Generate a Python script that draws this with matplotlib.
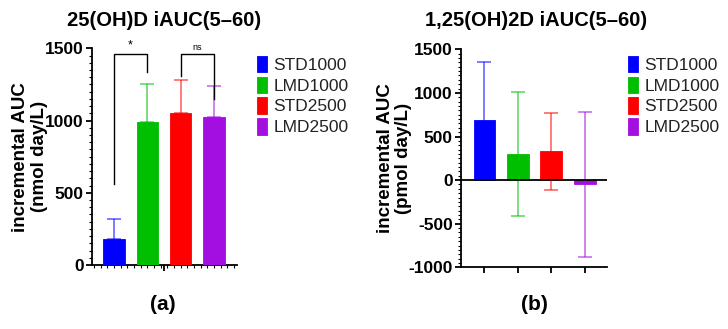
import matplotlib
matplotlib.use("Agg")
import matplotlib.pyplot as plt
from matplotlib.ticker import MultipleLocator, FixedLocator, NullFormatter
import numpy as np

plt.rcParams['font.family'] = ['Liberation Sans', 'DejaVu Sans']

groups = ["STD1000", "LMD1000", "STD2500", "LMD2500"]
colors = ["#0000FF", "#00BE00", "#FF0000", "#A30FE0"]

# Panel (a): 25(OH)D iAUC(5-60), nmol day/L
a_mean = [178, 988, 1050, 1027]
a_err = [138, 268, 233, 213]

# Panel (b): 1,25(OH)2D iAUC(5-60), pmol day/L
b_mean = [686, 297, 328, -49]
b_err = [667, 713, 447, 830]

# significance brackets for panel (a): (i, j, top, left_leg_end, right_leg_end, label)
a_brackets = [(0, 1, 1461, 561, 1338, "*"), (2, 3, 1461, 1308, 1147, "ns")]

W, H = 728, 329
fig = plt.figure(figsize=(W / 100, H / 100), dpi=100)

axA = fig.add_axes([92 / W, 1 - 265 / H, (237 - 92) / W, (265 - 48.3) / H])
axB = fig.add_axes([461 / W, 1 - 267.3 / H, (606.7 - 461) / W, (267.3 - 49.3) / H])

x = np.arange(len(groups))


def draw(ax, means, errs, lower_err):
    for i in range(len(groups)):
        ax.bar(x[i], means[i], width=0.65, color=colors[i], edgecolor=colors[i],
               linewidth=0.6, zorder=3, label=groups[i])
        yerr = [[errs[i] if lower_err else 0], [errs[i]]]
        ax.errorbar(x[i], means[i], yerr=yerr, fmt='none', ecolor=colors[i],
                    alpha=0.6, elinewidth=1.2, capsize=5, capthick=1.2, zorder=2)
    for s in ['top', 'right']:
        ax.spines[s].set_visible(False)
    for s in ['left', 'bottom']:
        ax.spines[s].set_linewidth(1.3)
    ax.tick_params(axis='y', which='major', length=4, width=1.3, labelsize=12.5, pad=2)
    ax.tick_params(axis='y', which='minor', length=2, width=0.8)
    ax.yaxis.set_minor_locator(MultipleLocator(50))


draw(axA, a_mean, a_err, False)
axA.set_xlim(-0.66, 3.69)
axA.set_ylim(0, 1500)
axA.set_yticks([0, 500, 1000, 1500])
axA.set_yticklabels(["0", "500", "1000", "1500"], fontweight='bold', fontsize=12.5)
axA.xaxis.set_major_locator(FixedLocator([1.5]))
axA.xaxis.set_major_formatter(NullFormatter())
axA.xaxis.set_minor_locator(MultipleLocator(0.2))
axA.tick_params(axis='x', which='major', length=4, width=1.3)
axA.tick_params(axis='x', which='minor', length=2, width=0.8)

for (i, j, top, l1, l2, lab) in a_brackets:
    axA.plot([x[i], x[i], x[j], x[j]], [l1, top, top, l2], color='black', lw=1.0,
             zorder=4, clip_on=False)
    axA.text((x[i] + x[j]) / 2, top + 15, lab, ha='center', va='bottom',
             fontsize=9 if lab == "*" else 6.5, zorder=5)

draw(axB, b_mean, b_err, True)
axB.set_xlim(-0.7, 3.66)
axB.set_ylim(-1000, 1500)
axB.set_yticks([-1000, -500, 0, 500, 1000, 1500])
axB.set_yticklabels(["-1000", "-500", "0", "500", "1000", "1500"], fontweight='bold', fontsize=12.5)
axB.set_xticks(x)
axB.set_xticklabels([])
axB.tick_params(axis='x', which='major', length=4, width=1.3)
axB.axhline(0, color='black', lw=1.3, zorder=4)

axA.set_ylabel("incremental AUC\n(nmol day/L)", fontsize=13.5, fontweight='bold', labelpad=-2,
               linespacing=1.1)
axB.set_ylabel("incremental AUC\n(pmol day/L)", fontsize=13.5, fontweight='bold', labelpad=-3,
               linespacing=1.1)

fig.text(164 / W, 1 - 20 / H, "25(OH)D iAUC(5–60)", ha='center', va='center',
         fontsize=14.5, fontweight='bold')
fig.text(536 / W, 1 - 20 / H, "1,25(OH)2D iAUC(5–60)", ha='center', va='center',
         fontsize=14.5, fontweight='bold')
fig.text(163 / W, 1 - 305 / H, "(a)", ha='center', va='center', fontsize=15, fontweight='bold')
fig.text(534 / W, 1 - 305 / H, "(b)", ha='center', va='center', fontsize=15, fontweight='bold')

for ax, lx in [(axA, 257), (axB, 628)]:
    leg = ax.legend(loc='center left', bbox_to_anchor=(lx / W, 1 - 95.5 / H),
                    bbox_transform=fig.transFigure, frameon=False, fontsize=12.5,
                    handlelength=0.6, handleheight=1.1, labelspacing=0.2,
                    handletextpad=0.35, borderpad=0, borderaxespad=0)
    for t in leg.get_texts():
        t.set_color('#222222')

fig.savefig("out.png", dpi=100)
